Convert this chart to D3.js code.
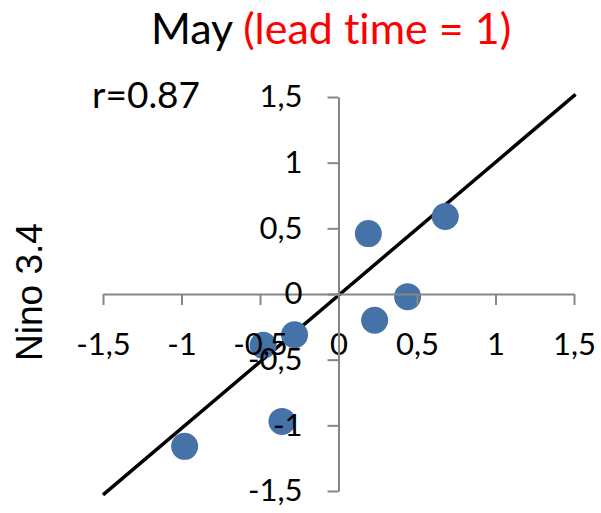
<!doctype html>
<html lang="en">
  <head>
    <meta charset="UTF-8" />
    <title>May (lead time = 1)</title>
    <script src="https://d3js.org/d3.v7.min.js"></script>
    <style>
      body {
        margin: 0;
        background: #fff;
      }
      text {
        font-variant-ligatures: none;
      }
      .tick text {
        font-family: Lato, 'Open Sans', sans-serif;
        font-size: 31px;
        fill: #000;
      }
    </style>
  </head>
  <body>
    <svg width="601" height="513"></svg>
    <script>
      // observed values (x) vs Nino 3.4 (y)
      const xVals = [-0.98, -0.36, -0.48, -0.28, 0.19, 0.68, 0.44, 0.23];
      const yVals = [-1.16, -0.97, -0.39, -0.31, 0.46, 0.59, -0.02, -0.2];
      const lineX = [-1.5, 1.51];
      const lineY = [-1.53, 1.52];
      const ticks = [-1.5, -1, -0.5, 0, 0.5, 1, 1.5];

      const svg = d3.select('svg');

      const x = d3.scaleLinear().domain([-1.5, 1.5]).range([103, 574]);
      const y = d3.scaleLinear().domain([-1.5, 1.5]).range([491, 97]);
      const fmt = (d) => String(d).replace('.', ',');

      // Title
      const title = svg
        .append('text')
        .attr('x', 331)
        .attr('y', 44)
        .attr('text-anchor', 'middle')
        .style('font-family', 'Lato, sans-serif')
        .style('font-size', '43px');
      title.append('tspan').attr('fill', '#000').text('May ');
      title.append('tspan').attr('fill', '#ff0000').text('(lead time = 1)');

      // correlation label
      svg
        .append('text')
        .attr('x', 92)
        .attr('y', 108)
        .style('font-family', 'Lato, sans-serif')
        .style('font-size', '37px')
        .text('r=0.87');

      // y axis title
      svg
        .append('text')
        .attr('transform', 'translate(42,292) rotate(-90)')
        .attr('text-anchor', 'middle')
        .style('font-family', "'Liberation Sans', Arial, sans-serif")
        .style('font-size', '37px')
        .text('Nino 3.4');

      // fit line
      svg
        .append('line')
        .attr('x1', x(lineX[0]))
        .attr('y1', y(lineY[0]))
        .attr('x2', x(lineX[1]))
        .attr('y2', y(lineY[1]))
        .attr('stroke', '#000')
        .attr('stroke-width', 3.5);

      // points
      svg
        .selectAll('.dot')
        .data(xVals.map((d, i) => [d, yVals[i]]))
        .enter()
        .append('circle')
        .attr('class', 'dot')
        .attr('cx', (d) => x(d[0]))
        .attr('cy', (d) => y(d[1]))
        .attr('r', 13.5)
        .attr('fill', '#4572a7');

      // x axis through y=0
      const gx = svg
        .append('g')
        .attr('transform', `translate(0,${y(0)})`)
        .call(
          d3.axisBottom(x).tickValues(ticks).tickFormat(fmt).tickSize(11).tickSizeOuter(0),
        );
      gx.selectAll('.tick text').attr('y', 39).attr('dy', '0.71em');

      // y axis through x=0
      const gy = svg
        .append('g')
        .attr('transform', `translate(${x(0)},0)`)
        .call(
          d3.axisLeft(y).tickValues(ticks).tickFormat(fmt).tickSize(11).tickSizeOuter(0),
        );
      gy.selectAll('.tick text').attr('x', -36);

      svg.selectAll('.domain, .tick line')
        .attr('stroke', '#868686')
        .attr('stroke-width', 2);
    </script>
  </body>
</html>
